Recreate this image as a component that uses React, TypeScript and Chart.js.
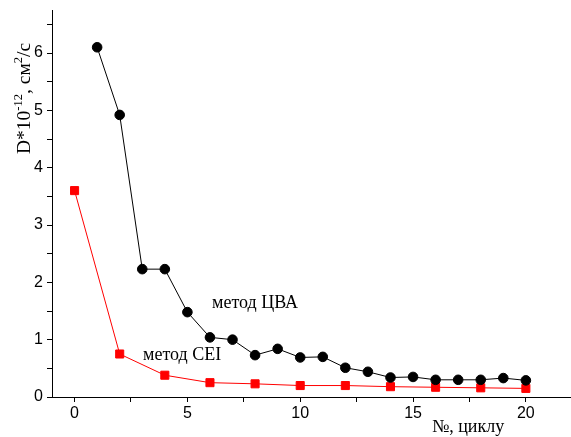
import React, { useEffect, useRef } from "react";
import { Chart, registerables } from "chart.js";

Chart.register(...registerables);

const cvaCycles = [1, 2, 3, 4, 5, 6, 7, 8, 9, 10, 11, 12, 13, 14, 15, 16, 17, 18, 19, 20];
const cvaValues = [6.1, 4.92, 2.23, 2.23, 1.48, 1.04, 1.0, 0.73, 0.84, 0.69, 0.7, 0.51, 0.44, 0.34, 0.35, 0.3, 0.3, 0.3, 0.33, 0.29];
const ceiCycles = [0, 2, 4, 6, 8, 10, 12, 14, 16, 18, 20];
const ceiValues = [3.6, 0.75, 0.38, 0.25, 0.23, 0.2, 0.2, 0.18, 0.17, 0.16, 0.15];
const xTickValues = [0, 2.5, 5, 7.5, 10, 12.5, 15, 17.5, 20];
const xLabelValues = [0, 5, 10, 15, 20];
const yTickValues = [0, 0.5, 1, 1.5, 2, 2.5, 3, 3.5, 4, 4.5, 5, 5.5, 6, 6.5];
const yLabelValues = [0, 1, 2, 3, 4, 5, 6];

const SERIF = "'Liberation Serif', 'Times New Roman', serif";
const SANS = "'Liberation Sans', Arial, sans-serif";

const textPlugin = {
  id: "texts",
  afterDraw(chart: any) {
    const ctx = chart.ctx as CanvasRenderingContext2D;
    ctx.save();
    ctx.fillStyle = "#000";
    ctx.textBaseline = "alphabetic";
    ctx.textAlign = "left";
    ctx.font = `18px ${SERIF}`;
    ctx.fillText("метод ЦВА", 212, 308);
    ctx.fillText("метод CEI", 143, 360);
    ctx.fillText("№, циклу", 432, 432);

    // Y axis title with superscripts
    ctx.translate(30, 154);
    ctx.rotate(-Math.PI / 2);
    const parts: [string, boolean][] = [
      ["D*10", false],
      ["-12", true],
      [", см", false],
      ["2", true],
      ["/с", false],
    ];
    let x = 0;
    for (const [t, sup] of parts) {
      ctx.font = sup ? `12.5px ${SERIF}` : `19.5px ${SERIF}`;
      ctx.fillText(t, x, sup ? -8.5 : 0);
      x += ctx.measureText(t).width;
    }
    ctx.restore();
  },
};

const zeroPad = (s: any) => {
  s.paddingLeft = 0;
  s.paddingRight = 0;
  s.paddingTop = 0;
  s.paddingBottom = 0;
};

export default function App() {
  const ref = useRef<HTMLCanvasElement>(null);
  useEffect(() => {
    if (!ref.current) return;
    const chart = new Chart(ref.current, {
      type: "scatter",
      data: {
        datasets: [
          {
            label: "метод ЦВА",
            data: cvaCycles.map((c, i) => ({ x: c, y: cvaValues[i] })),
            showLine: true,
            borderColor: "#000",
            borderWidth: 1,
            backgroundColor: "#000",
            pointBackgroundColor: "#000",
            pointBorderColor: "#000",
            pointBorderWidth: 1,
            pointRadius: 4.8,
            pointStyle: "circle",
            clip: false,
          },
          {
            label: "метод CEI",
            data: ceiCycles.map((c, i) => ({ x: c, y: ceiValues[i] })),
            showLine: true,
            borderColor: "#ff0000",
            borderWidth: 1,
            backgroundColor: "#ff0000",
            pointBackgroundColor: "#ff0000",
            pointBorderColor: "#ff0000",
            pointBorderWidth: 1,
            pointRadius: 5.7,
            pointStyle: "rect",
            clip: false,
          },
        ],
      },
      options: {
        animation: false,
        responsive: false,
        maintainAspectRatio: false,
        layout: { autoPadding: false, padding: { top: 10, right: 0, left: 0, bottom: 0 } },
        plugins: { legend: { display: false }, tooltip: { enabled: false } },
        scales: {
          x: {
            type: "linear",
            min: -1,
            max: 22,
            afterBuildTicks: (s: any) => {
              s.ticks = xTickValues.map((v) => ({ value: v }));
            },
            afterFit: (s: any) => {
              s.height = 40;
              zeroPad(s);
            },
            ticks: {
              autoSkip: false,
              maxRotation: 0,
              color: "#000",
              font: { family: SANS, size: 16 },
              padding: 2,
              callback: (v: any) => (xLabelValues.includes(Number(v)) ? String(v) : ""),
            },
            grid: { drawOnChartArea: false, drawTicks: true, tickLength: 5, color: "#000" },
            border: { display: true, color: "#000", width: 1 },
          },
          y: {
            type: "linear",
            min: 0,
            max: 6.75,
            afterBuildTicks: (s: any) => {
              s.ticks = yTickValues.map((v) => ({ value: v }));
            },
            afterFit: (s: any) => {
              s.width = 52;
              zeroPad(s);
            },
            ticks: {
              autoSkip: false,
              color: "#000",
              font: { family: SANS, size: 16 },
              padding: 4,
              callback: (v: any) => (yLabelValues.includes(Number(v)) ? String(v) : ""),
            },
            grid: { drawOnChartArea: false, drawTicks: true, tickLength: 5, color: "#000" },
            border: { display: true, color: "#000", width: 1 },
          },
        },
      },
      plugins: [textPlugin],
    });
    return () => chart.destroy();
  }, []);
  return (
    <div style={{ position: "absolute", left: 0, top: 0, width: 571, height: 437 }}>
      <canvas ref={ref} width={571} height={437} style={{ display: "block", width: 571, height: 437 }} />
    </div>
  );
}
